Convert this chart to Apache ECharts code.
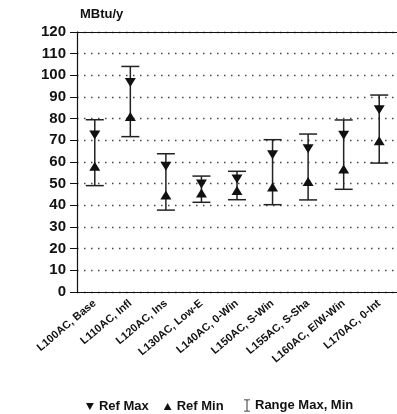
<!DOCTYPE html>
<html>
<head>
<meta charset="utf-8">
<script src="https://cdn.jsdelivr.net/npm/echarts@6/dist/echarts.min.js"></script>
<style>
  html, body { margin: 0; padding: 0; background: #fff; }
  #main { width: 397px; height: 414px; }
</style>
</head>
<body>
<div id="main"></div>
<script>
var categories = ['L100AC, Base', 'L110AC, Infl', 'L120AC, Ins', 'L130AC, Low-E', 'L140AC, 0-Win',
  'L150AC, S-Win', 'L155AC, S-Sha', 'L160AC, E/W-Win', 'L170AC, 0-Int'];
var refMax = [72.5, 96.7, 58.0, 49.8, 52.2, 63.4, 66.1, 72.3, 84.1];
var refMin = [58.0, 81.0, 44.8, 45.7, 46.8, 48.5, 51.0, 56.8, 69.8];
var rangeMax = [79.5, 104.1, 63.8, 53.5, 55.7, 70.3, 72.9, 79.4, 90.9];
var rangeMin = [49.1, 71.7, 37.8, 41.4, 42.6, 40.3, 42.5, 47.4, 59.5];

var font = "'Liberation Sans', Arial, sans-serif";
var downTri = 'path://M0,0L10,0L5,9Z';
var upTri = 'path://M5,0L10,9L0,9Z';
var iBeam = 'path://M0,0H7V1H4V13H7V14H0V13H3V1H0Z';

var myChart = echarts.init(document.getElementById('main'));

function renderRange(params, api) {
  var i = api.value(0);
  var hi = api.coord([i, api.value(1)]);
  var lo = api.coord([i, api.value(2)]);
  var w = 9;
  var st = { stroke: '#222', lineWidth: 1.5 };
  return {
    type: 'group',
    children: [
      { type: 'line', shape: { x1: hi[0], y1: hi[1], x2: lo[0], y2: lo[1] }, style: st },
      { type: 'line', shape: { x1: hi[0] - w, y1: hi[1], x2: hi[0] + w, y2: hi[1] }, style: st },
      { type: 'line', shape: { x1: lo[0] - w, y1: lo[1], x2: lo[0] + w, y2: lo[1] }, style: st }
    ]
  };
}

var option = {
  backgroundColor: '#fff',
  animation: false,
  textStyle: { fontFamily: font },
  title: {
    text: 'MBtu/y',
    left: 75,
    top: 3,
    textStyle: { fontFamily: font, fontSize: 13, fontWeight: 'bold', color: '#111' }
  },
  legend: [
    {
      data: [
        { name: 'Ref Max', icon: downTri },
        { name: 'Ref Min', icon: upTri }
      ],
      left: 81,
      top: 395,
      itemWidth: 8,
      itemHeight: 7,
      itemGap: 15,
      textStyle: { fontFamily: font, fontSize: 13, fontWeight: 'bold', color: '#111' }
    },
    {
      data: [{ name: 'Range Max, Min', icon: iBeam }],
      left: 239,
      top: 394,
      itemWidth: 6,
      itemHeight: 14,
      textStyle: { fontFamily: font, fontSize: 13, fontWeight: 'bold', color: '#111' }
    }
  ],
  grid: { left: 77, right: -5, top: 32, bottom: 122 },
  xAxis: [
    {
      type: 'category',
      data: categories,
      axisLine: { lineStyle: { color: '#111', width: 1.2 } },
      axisTick: { alignWithLabel: true, length: 5, lineStyle: { color: '#111' } },
      axisLabel: {
        rotate: 40,
        margin: 10,
        interval: 0,
        fontFamily: font,
        fontSize: 11,
        fontWeight: 'bold',
        color: '#111'
      }
    },
    {
      type: 'category',
      position: 'top',
      data: categories,
      axisLine: { lineStyle: { color: '#111', width: 1.2 } },
      axisTick: { show: false },
      axisLabel: { show: false }
    }
  ],
  yAxis: {
    type: 'value',
    min: 0,
    max: 120,
    interval: 10,
    axisLine: { show: true, lineStyle: { color: '#111', width: 1.2 } },
    axisTick: { show: true, length: 7, lineStyle: { color: '#111' } },
    axisLabel: {
      margin: 11,
      fontFamily: font,
      fontSize: 15,
      fontWeight: 'bold',
      color: '#111'
    },
    splitLine: {
      show: true,
      lineStyle: { color: '#444', width: 1.4, type: [1.5, 5.5] }
    }
  },
  series: [
    {
      name: 'Range Max, Min',
      type: 'custom',
      renderItem: renderRange,
      itemStyle: { color: '#111' },
      encode: { x: 0, y: [1, 2] },
      data: categories.map(function (c, i) { return [i, rangeMax[i], rangeMin[i]]; }),
      z: 2
    },
    {
      name: 'Ref Max',
      type: 'scatter',
      symbol: downTri,
      symbolSize: [11, 9],
      itemStyle: { color: '#111', opacity: 1 },
      data: refMax,
      z: 3
    },
    {
      name: 'Ref Min',
      type: 'scatter',
      symbol: upTri,
      symbolSize: [11, 9],
      itemStyle: { color: '#111', opacity: 1 },
      data: refMin,
      z: 3
    }
  ]
};

myChart.setOption(option);
</script>
</body>
</html>
